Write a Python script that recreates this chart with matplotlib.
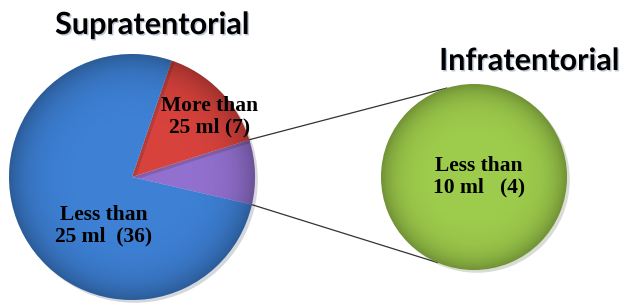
import matplotlib
matplotlib.use("Agg")
import matplotlib.pyplot as plt
import matplotlib.patheffects as pe
import numpy as np

# Data
sup_labels = ["Infratentorial share", "More than\n25 ml (7)", "Less than\n25 ml  (36)"]
sup_values = [4, 7, 36]
inf_labels = ["Less than\n10 ml   (4)"]
inf_values = [4]
titles = ["Supratentorial", "Infratentorial"]

W, H = 628, 303
fig = plt.figure(figsize=(W / 100, H / 100), dpi=100)
ax = fig.add_axes([0, 0, 1, 1])

sup_colors = ["#9270cf", "#d8423c", "#3d80d4"]
inf_color = "#9dcb4b"

total = sum(sup_values)
start = -13.0

wedges, _ = ax.pie(sup_values, startangle=start, counterclock=True,
                   center=(132, H - 177), radius=123,
                   explode=[0.03, 0.02, 0.0], colors=sup_colors,
                   wedgeprops=dict(edgecolor="none", linewidth=0),
                   frame=True)
wedges2, _ = ax.pie(inf_values, startangle=90, center=(474, H - 177), radius=93,
                    colors=[inf_color],
                    wedgeprops=dict(edgecolor="none", linewidth=0),
                    frame=True)

for w in wedges + wedges2:
    w.set_path_effects([pe.SimplePatchShadow(offset=(2, -2), alpha=0.18), pe.Normal()])

# soft 3D-like shading: darker toward the rim
def shade(wedge, cx, cy, r):
    n = 200
    xs = np.linspace(cx - r - 10, cx + r + 10, n)
    ys = np.linspace(cy - r - 10, cy + r + 10, n)
    X, Y = np.meshgrid(xs, ys)
    d = np.clip(np.hypot(X - cx, Y - cy) / r, 0, 1)
    rgba = np.zeros((n, n, 4))
    rgba[..., 3] = 0.28 * d ** 6
    im = ax.imshow(rgba, extent=(xs[0], xs[-1], ys[0], ys[-1]), origin="lower",
                   zorder=wedge.get_zorder() + 0.01, interpolation="bilinear")
    im.set_clip_path(wedge)

for w in wedges:
    shade(w, w.center[0], w.center[1], w.r)
shade(wedges2[0], wedges2[0].center[0], wedges2[0].center[1], wedges2[0].r)

ax.set_xlim(0, W)
ax.set_ylim(0, H)
ax.set_aspect("equal")
ax.axis("off")

# connection lines from purple wedge edges to the green circle
pw = wedges[0]
cx, cy = pw.center
r = pw.r
p_top = (cx + r * np.cos(np.radians(pw.theta2)), cy + r * np.sin(np.radians(pw.theta2)))
p_bot = (cx + r * np.cos(np.radians(pw.theta1)), cy + r * np.sin(np.radians(pw.theta1)))
gw = wedges2[0]
gx, gy = gw.center
gr = gw.r
q_top = (gx + gr * np.cos(np.radians(107)), gy + gr * np.sin(np.radians(107)))
q_bot = (gx + gr * np.cos(np.radians(247)), gy + gr * np.sin(np.radians(247)))
ax.plot([p_top[0], q_top[0]], [p_top[1], q_top[1]], color="#333333", lw=0.9, zorder=0.5)
ax.plot([p_bot[0], q_bot[0]], [p_bot[1], q_bot[1]], color="#333333", lw=0.9, zorder=0.5)

lab_font = dict(family="Liberation Serif", fontweight="bold", fontsize=15.5,
                color="black", ha="center", va="center", linespacing=1.1, zorder=5)
ax.text(210, H - 117, sup_labels[1], **lab_font)
ax.text(104, H - 226, sup_labels[2], **lab_font)
ax.text(479, H - 177, inf_labels[0], **lab_font)

title_font = dict(family="Lato", fontweight="bold", fontsize=22, color="black",
                  ha="center", va="center", zorder=5,
                  path_effects=[pe.withSimplePatchShadow(offset=(1.0, -1.0), shadow_rgbFace="#3a5a8a", alpha=0.35)])
ax.text(152, H - 25, titles[0], **title_font)
ax.text(529, H - 61, titles[1], **title_font)

fig.savefig("out.png", dpi=100)
